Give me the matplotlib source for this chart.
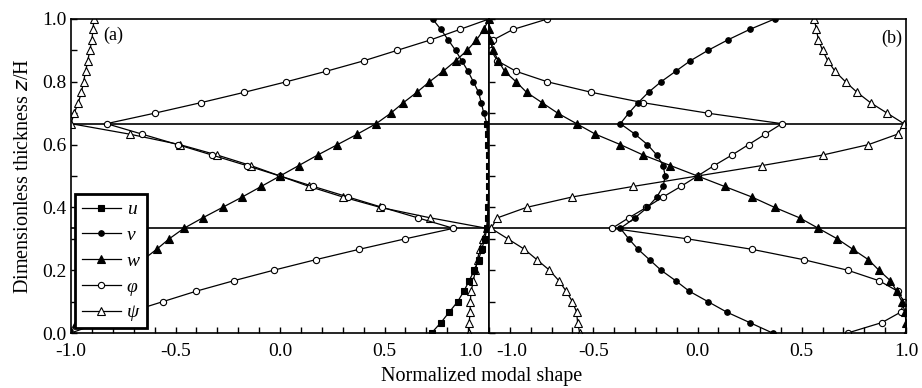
import numpy as np
import matplotlib
matplotlib.use("Agg")
import matplotlib.pyplot as plt
from matplotlib.lines import Line2D
from matplotlib.ticker import MultipleLocator, FuncFormatter, FormatStrFormatter

plt.rcParams['font.family'] = ['Liberation Serif', 'DejaVu Serif']
plt.rcParams['axes.unicode_minus'] = False

# Dimensionless thickness grid (10 points per layer, 3 layers)
z = np.linspace(0, 1, 31)

# Panel (a) modal shapes
u_a = [0.725, 0.77, 0.81, 0.85, 0.88, 0.905, 0.93, 0.95, 0.965, 0.98, 0.99,
       0.993, 0.996, 0.998, 1.0, 1.0, 1.0, 0.998, 0.996, 0.993, 0.99]   # z[0:21]
v_a = [0.99, 0.993, 0.996, 0.998, 1.0, 1.0, 1.0, 0.998, 0.996, 0.993, 0.99,
       0.975, 0.963, 0.95, 0.925, 0.90, 0.87, 0.84, 0.805, 0.77, 0.73]  # z[10:31]
w_a = [-1.0, -0.975, -0.94, -0.895, -0.84, -0.78, -0.715, -0.655, -0.59, -0.53, -0.46,
       -0.37, -0.275, -0.18, -0.09, 0.0, 0.09, 0.18, 0.275, 0.37,
       0.46, 0.53, 0.59, 0.655, 0.715, 0.78, 0.84, 0.895, 0.94, 0.975, 1.0]
phi_a = [-1.0, -0.86, -0.72, -0.56, -0.40, -0.22, -0.03, 0.17, 0.38, 0.60, 0.83,
         0.66, 0.49, 0.325, 0.16, 0.0, -0.16, -0.325, -0.49, -0.66,
         -0.83, -0.60, -0.38, -0.17, 0.03, 0.22, 0.40, 0.56, 0.72, 0.86, 1.0]
psi_a = [0.905, 0.905, 0.91, 0.91, 0.915, 0.925, 0.935, 0.945, 0.955, 0.97, 0.99,
         0.72, 0.48, 0.30, 0.14, 0.0, -0.14, -0.30, -0.48, -0.72,
         -1.0, -0.985, -0.965, -0.95, -0.94, -0.93, -0.92, -0.91, -0.90, -0.895, -0.89]

# Panel (b) modal shapes
v_b = [0.36, 0.25, 0.14, 0.05, -0.04, -0.105, -0.175, -0.23, -0.285, -0.33, -0.37,
       -0.30, -0.24, -0.195, -0.165, -0.155, -0.165, -0.195, -0.24, -0.30,
       -0.37, -0.33, -0.285, -0.235, -0.175, -0.105, -0.035, 0.05, 0.145, 0.25, 0.37]
w_b = [1.0, 1.0, 0.995, 0.98, 0.955, 0.925, 0.87, 0.82, 0.745, 0.67, 0.58,
       0.49, 0.37, 0.26, 0.13, 0.0, -0.13, -0.26, -0.37, -0.49,
       -0.58, -0.67, -0.745, -0.82, -0.87, -0.925, -0.955, -0.98, -0.995, -1.0, -1.0]
phi_b = [0.72, 0.885, 0.975, 0.99, 0.96, 0.87, 0.72, 0.51, 0.26, -0.05, -0.41,
         -0.33, -0.245, -0.165, -0.08, 0.0, 0.08, 0.165, 0.245, 0.325,
         0.405, 0.05, -0.26, -0.51, -0.72, -0.87, -0.96, -0.99, -0.98, -0.885, -0.72]
psi_b = [-0.565, -0.575, -0.58, -0.60, -0.63, -0.665, -0.71, -0.77, -0.83, -0.91, -0.99,
         -0.96, -0.82, -0.60, -0.31, 0.0, 0.31, 0.60, 0.82, 0.96,
         0.99, 0.91, 0.83, 0.765, 0.71, 0.66, 0.625, 0.60, 0.58, 0.57, 0.56]

interfaces = [1 / 3, 2 / 3]
names = ['u', 'v', 'w', 'φ', 'ψ']

styles = {
    'u': dict(marker='s', ms=4.5, mfc='black'),
    'v': dict(marker='o', ms=4.0, mfc='black'),
    'w': dict(marker='^', ms=6.0, mfc='black'),
    'φ': dict(marker='o', ms=4.5, mfc='white'),
    'ψ': dict(marker='^', ms=5.5, mfc='white'),
}

fig = plt.figure(figsize=(9.22, 3.88), dpi=100)
ax_a = fig.add_axes([71 / 922, 55 / 388, 418 / 922, 314 / 388])
ax_b = fig.add_axes([489 / 922, 55 / 388, 417 / 922, 314 / 388])


def draw(ax, x, zz, key):
    ax.plot(x, zz, color='black', lw=0.9, mec='black', mew=0.8, **styles[key])


draw(ax_a, psi_a, z, 'ψ')
draw(ax_a, phi_a, z, 'φ')
draw(ax_a, w_a, z, 'w')
draw(ax_a, v_a, z[10:], 'v')
draw(ax_a, u_a, z[:21], 'u')

draw(ax_b, psi_b, z, 'ψ')
draw(ax_b, phi_b, z, 'φ')
draw(ax_b, w_b, z, 'w')
draw(ax_b, v_b, z, 'v')


# labels at the shared edge are drawn separately so they do not overlap
def fmt_skip(skip):
    return FuncFormatter(lambda v, pos: '' if abs(v - skip) < 1e-6 else '%.1f' % v)


for ax, skip in ((ax_a, 1.0), (ax_b, -1.0)):
    for zi in interfaces:
        ax.axhline(zi, color='black', lw=1.2, zorder=1)
    ax.set_xlim(-1, 1)
    ax.set_ylim(0, 1)
    ax.xaxis.set_major_locator(MultipleLocator(0.5))
    ax.xaxis.set_minor_locator(MultipleLocator(0.1))
    ax.yaxis.set_major_locator(MultipleLocator(0.2))
    ax.yaxis.set_minor_locator(MultipleLocator(0.1))
    ax.xaxis.set_major_formatter(fmt_skip(skip))
    ax.yaxis.set_major_formatter(FormatStrFormatter('%.1f'))
    ax.tick_params(which='both', direction='in', length=4, width=1,
                   top=False, right=False, labelsize=14)
    ax.tick_params(axis='x', pad=7)
    for s in ax.spines.values():
        s.set_linewidth(1.2)

ax_b.tick_params(labelleft=False)

ax_a.annotate('1.0', xy=(1.0, 0), xycoords=('data', 'axes fraction'),
              xytext=(-4.5, -7.5), textcoords='offset points',
              ha='right', va='top', fontsize=14)
ax_b.annotate('-1.0', xy=(-1.0, 0), xycoords=('data', 'axes fraction'),
              xytext=(5.5, -7.5), textcoords='offset points',
              ha='left', va='top', fontsize=14)

ax_a.text(0.078, 0.977, '(a)', transform=ax_a.transAxes, fontsize=13, va='top')
ax_b.text(0.99, 0.967, '(b)', transform=ax_b.transAxes, fontsize=13, va='top', ha='right')

ax_a.set_ylabel('Dimensionless thickness $\\it{z}$/H', fontsize=14.5, labelpad=6)
fig.text(482 / 922, 12 / 388, 'Normalized modal shape', fontsize=14.5, ha='center', va='center')

handles = [Line2D([], [], color='black', lw=0.9, mec='black', mew=0.8, **styles[k]) for k in names]
leg = ax_a.legend(handles, names, loc='lower left', bbox_to_anchor=(0.01, 0.015),
                  frameon=True, fancybox=False, framealpha=1, edgecolor='black',
                  handlelength=2.0, handletextpad=0.3, labelspacing=0.42,
                  borderpad=0.35, borderaxespad=0,
                  prop=dict(family='Liberation Serif', style='italic', size=14))
leg.get_frame().set_linewidth(2)
leg.set_zorder(5)

fig.savefig('out.png', dpi=100)
